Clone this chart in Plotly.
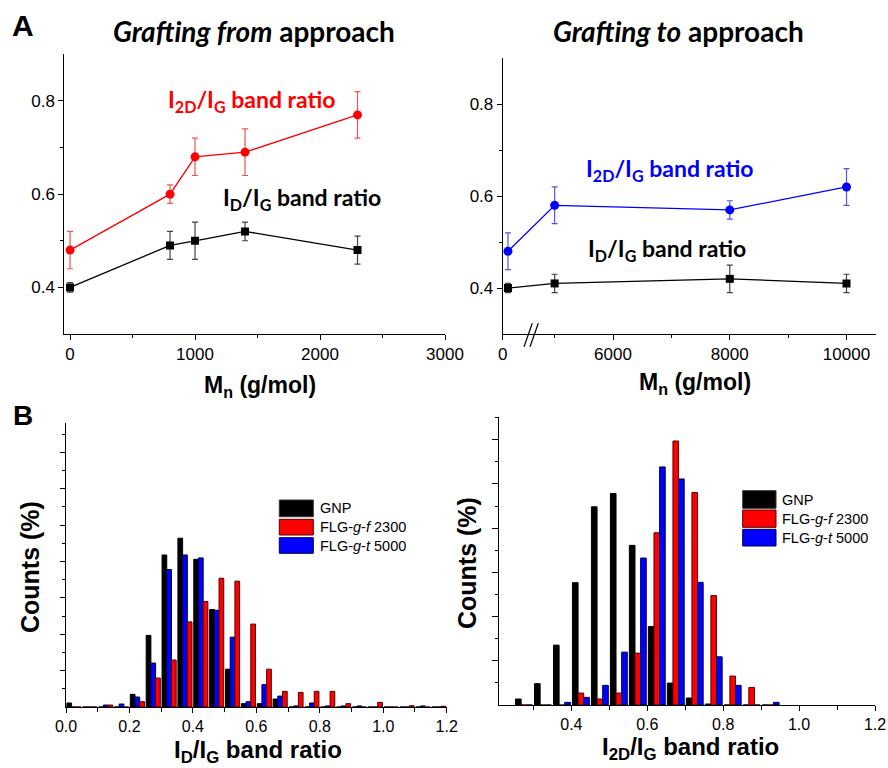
import plotly.graph_objects as go

W, H = 888, 768

# ---------------- Panel A data ----------------
MN_FROM = [0, 800, 1000, 1400, 2300]
I2D_FROM = [0.48, 0.60, 0.68, 0.69, 0.77]
I2D_FROM_ERR = [0.04, 0.02, 0.04, 0.05, 0.05]
ID_FROM = [0.40, 0.49, 0.50, 0.52, 0.48]
ID_FROM_ERR = [0.01, 0.03, 0.04, 0.02, 0.03]

MN_TO = [0, 5000, 8000, 10000]
I2D_TO = [0.48, 0.58, 0.57, 0.62]
I2D_TO_ERR = [0.04, 0.04, 0.02, 0.04]
ID_TO = [0.40, 0.41, 0.42, 0.41]
ID_TO_ERR = [0.01, 0.02, 0.03, 0.02]

# broken axis: Mn = 0 is drawn just after the axis break
AXIS_START_TO = 4110
BREAK_POS = 4200

# ---------------- Panel B data ----------------
BINS_ID = [0.025, 0.075, 0.125, 0.175, 0.225, 0.275, 0.325, 0.375, 0.425, 0.475,
           0.525, 0.575, 0.625, 0.675, 0.725, 0.775, 0.825, 0.875, 0.925, 0.975,
           1.025, 1.075, 1.125, 1.175]
GNP_ID = [0.55, 0, 0, 0, 1.74, 9.84, 20.9, 23.2, 20.3, 13.4, 5.2, 0.46, 0.46, 1.1,
          0, 0, 0, 0, 0, 0, 0, 0, 0, 0]
FROM_ID = [0, 0, 0.27, 0, 0.73, 3.98, 6.46, 11.7, 14.5, 17.7, 17.3, 11.4, 5.2, 2.15,
           2.0, 2.15, 2.15, 0.46, 0, 0.64, 0, 0.18, 0, 0.1]
TO_ID = [0, 0, 0.27, 0.41, 1.37, 6.04, 18.9, 20.9, 20.5, 13.3, 9.6, 0.73, 3.07, 1.5,
         0.15, 0.55, 0.15, 0.15, 0.15, 0, 0, 0, 0.15, 0]

BINS_2D = [0.275, 0.325, 0.375, 0.425, 0.475, 0.525, 0.575, 0.625, 0.675, 0.725,
           0.775, 0.825, 0.875, 0.925]
GNP_2D = [0.68, 2.41, 6.77, 13.83, 22.41, 23.91, 18.05, 8.87, 2.48, 0.79, 0.11, 0, 0, 0]
FROM_2D = [0, 0, 0, 1.35, 0.68, 1.35, 5.86, 19.47, 29.85, 24.02, 12.37, 3.27, 1.99, 0]
TO_2D = [0, 0, 0.30, 0.86, 2.22, 5.98, 16.62, 26.92, 25.56, 13.87, 5.45, 2.22, 0, 0.30]

LEGEND_LABELS = ["GNP", "FLG-<i>g</i>-<i>f</i> 2300", "FLG-<i>g</i>-<i>t</i> 5000"]

ARIAL = "Liberation Sans, Arial, sans-serif"
CALIBRI = "Lato, Open Sans, sans-serif"

RED = "#ff0000"
BLUE = "#0000ff"
BLACK = "#000000"


def px(x):
    return x / W


def py(y):
    return 1 - y / H


fig = go.Figure()

# ---------- Top-left ----------
fig.add_trace(go.Scatter(
    x=MN_FROM, y=ID_FROM, mode="lines+markers", xaxis="x", yaxis="y",
    line=dict(color=BLACK, width=1.3),
    marker=dict(symbol="square", size=8, color=BLACK),
    error_y=dict(type="data", array=ID_FROM_ERR, visible=True, color="#444444",
                 thickness=1.2, width=3)))
fig.add_trace(go.Scatter(
    x=MN_FROM, y=I2D_FROM, mode="lines+markers", xaxis="x", yaxis="y",
    line=dict(color=RED, width=1.3),
    marker=dict(symbol="circle", size=9, color=RED),
    error_y=dict(type="data", array=I2D_FROM_ERR, visible=True, color="rgba(235,40,40,0.8)",
                 thickness=1.2, width=3)))

# ---------- Top-right ----------
mn_to_axis = [BREAK_POS if m == 0 else m for m in MN_TO]
fig.add_trace(go.Scatter(
    x=mn_to_axis, y=ID_TO, mode="lines+markers", xaxis="x2", yaxis="y2",
    line=dict(color=BLACK, width=1.3),
    marker=dict(symbol="square", size=8, color=BLACK),
    error_y=dict(type="data", array=ID_TO_ERR, visible=True, color="#444444",
                 thickness=1.2, width=3)))
fig.add_trace(go.Scatter(
    x=mn_to_axis, y=I2D_TO, mode="lines+markers", xaxis="x2", yaxis="y2",
    line=dict(color=BLUE, width=1.3),
    marker=dict(symbol="circle", size=9, color=BLUE),
    error_y=dict(type="data", array=I2D_TO_ERR, visible=True, color="rgba(40,40,235,0.8)",
                 thickness=1.2, width=3)))

# ---------- Bottom-left histogram (order: GNP, g-t, g-f) ----------
fig.add_trace(go.Bar(x=BINS_ID, y=GNP_ID, xaxis="x3", yaxis="y3",
                     marker=dict(color=BLACK, line=dict(color="#000000", width=1))))
fig.add_trace(go.Bar(x=BINS_ID, y=TO_ID, xaxis="x3", yaxis="y3",
                     marker=dict(color=BLUE, line=dict(color="#000044", width=1))))
fig.add_trace(go.Bar(x=BINS_ID, y=FROM_ID, xaxis="x3", yaxis="y3",
                     marker=dict(color=RED, line=dict(color="#550000", width=1))))

# ---------- Bottom-right histogram (order: GNP, g-f, g-t) ----------
fig.add_trace(go.Bar(x=BINS_2D, y=GNP_2D, xaxis="x4", yaxis="y4",
                     marker=dict(color=BLACK, line=dict(color="#000000", width=1))))
fig.add_trace(go.Bar(x=BINS_2D, y=FROM_2D, xaxis="x4", yaxis="y4",
                     marker=dict(color=RED, line=dict(color="#550000", width=1))))
fig.add_trace(go.Bar(x=BINS_2D, y=TO_2D, xaxis="x4", yaxis="y4",
                     marker=dict(color=BLUE, line=dict(color="#000044", width=1))))

tickfont = dict(family=ARIAL, size=17, color="black")
common = dict(showline=True, linecolor="black", linewidth=1, ticks="outside",
              ticklen=5, tickcolor="black", tickwidth=1, showgrid=False,
              zeroline=False, tickfont=tickfont, mirror=False,
              ticklabeloverflow="allow")
bottom_font = dict(family=ARIAL, size=16, color="black")

fig.update_layout(
    width=W, height=H, template="none",
    paper_bgcolor="white", plot_bgcolor="white",
    margin=dict(l=0, r=0, t=0, b=0),
    showlegend=False,
    barmode="group", bargap=0.11, bargroupgap=0,
    xaxis=dict(domain=[px(64.3), px(445)], range=[-46, 3000], anchor="y",
               tickvals=[0, 1000, 2000, 3000],
               minor=dict(tickvals=[500, 1500, 2500], ticks="outside", ticklen=3,
                          tickcolor="black"),
               **common),
    yaxis=dict(domain=[py(334), py(54.3)], range=[0.3, 0.9], anchor="x",
               tickvals=[0.4, 0.6, 0.8],
               minor=dict(tickvals=[0.5, 0.7], ticks="outside", ticklen=3,
                          tickcolor="black"),
               **common),
    xaxis2=dict(domain=[px(502.7), px(875.7)], range=[AXIS_START_TO, 10500], anchor="y2",
                tickvals=[AXIS_START_TO, 6000, 8000, 10000],
                ticktext=["0", "6000", "8000", "10000"],
                minor=dict(tickvals=[5000, 7000, 9000], ticks="outside", ticklen=3,
                           tickcolor="black"),
                **common),
    yaxis2=dict(domain=[py(334), py(58.3)], range=[0.3, 0.9], anchor="x2",
                tickvals=[0.4, 0.6, 0.8],
                minor=dict(tickvals=[0.5, 0.7], ticks="outside", ticklen=3,
                           tickcolor="black"),
                **common),
    xaxis3=dict(domain=[px(66), px(446.7)], range=[0, 1.2], anchor="y3",
                tickvals=[0, 0.2, 0.4, 0.6, 0.8, 1.0, 1.2],
                ticktext=["0.0", "0.2", "0.4", "0.6", "0.8", "1.0", "1.2"],
                minor=dict(tickvals=[0.1, 0.3, 0.5, 0.7, 0.9, 1.1], ticks="outside",
                           ticklen=4, tickcolor="black"),
                **{**common, "tickfont": bottom_font}),
    yaxis3=dict(domain=[py(707), py(423.3)], range=[0, 39], anchor="x3",
                showticklabels=False, tickvals=[5, 10, 15, 20, 25, 30, 35],
                minor=dict(tickvals=[2.5, 7.5, 12.5, 17.5, 22.5, 27.5, 32.5, 37.5],
                           ticks="outside", ticklen=3, tickcolor="black"),
                **common),
    xaxis4=dict(domain=[px(499.3), px(875)], range=[0.21, 1.2], anchor="y4",
                tickvals=[0.4, 0.6, 0.8, 1.0, 1.2],
                ticktext=["0.4", "0.6", "0.8", "1.0", "1.2"],
                minor=dict(tickvals=[0.3, 0.5, 0.7, 0.9, 1.1], ticks="outside",
                           ticklen=4, tickcolor="black"),
                **{**common, "tickfont": bottom_font}),
    yaxis4=dict(domain=[py(705), py(416.7)], range=[0, 32.6], anchor="x4",
                showticklabels=False, tickvals=[5, 10, 15, 20, 25, 30],
                minor=dict(tickvals=[2.5, 7.5, 12.5, 17.5, 22.5, 27.5, 32.5],
                           ticks="outside", ticklen=3, tickcolor="black"),
                **{**common, "ticklen": 6}),
)

annotations = []


def ann(x, y, text, size, family=ARIAL, color="black", angle=0, xanchor="center",
        yanchor="middle"):
    annotations.append(dict(x=px(x), y=py(y), xref="paper", yref="paper", text=text,
                            showarrow=False, textangle=angle, xanchor=xanchor,
                            yanchor=yanchor,
                            font=dict(family=family, size=size, color=color)))


ann(23, 25, "<b>A</b>", 30)
ann(23, 415, "<b>B</b>", 28)
ann(254, 31, "<b><i>Grafting from</i> approach</b>", 28, CALIBRI)
ann(678, 31, "<b><i>Grafting to</i> approach</b>", 28, CALIBRI)

ann(252, 100, "<b>I<sub>2D</sub>/I<sub>G</sub> band ratio</b>", 23, CALIBRI, RED)
ann(302, 199, "<b>I<sub>D</sub>/I<sub>G</sub> band ratio</b>", 23, CALIBRI, BLACK)
ann(670, 169, "<b>I<sub>2D</sub>/I<sub>G</sub> band ratio</b>", 23, CALIBRI, BLUE)
ann(667, 250, "<b>I<sub>D</sub>/I<sub>G</sub> band ratio</b>", 23, CALIBRI, BLACK)

ann(260, 386, "<b>M<sub>n</sub> (g/mol)</b>", 23)
ann(695, 383, "<b>M<sub>n</sub> (g/mol)</b>", 23)
ann(258, 751, "<b>I<sub>D</sub>/I<sub>G</sub> band ratio</b>", 24)
ann(690, 748, "<b>I<sub>2D</sub>/I<sub>G</sub> band ratio</b>", 24)
ann(30, 567, "<b>Counts (%)</b>", 25, angle=-90)
ann(467, 563, "<b>Counts (%)</b>", 25, angle=-90)

shapes = []
# axis break marks on top-right x axis
for dx in (0, 6):
    shapes.append(dict(type="line", xref="paper", yref="paper",
                       x0=px(524 + dx), y0=py(346.7), x1=px(532.3 + dx), y1=py(323.3),
                       line=dict(color="black", width=1.2)))

# legends drawn as swatches + labels
SWATCH_COLORS = [BLACK, RED, BLUE]
SWATCH_LINES = ["#333333", "#550000", "#000044"]
for (bx0, bx1, rows, tx) in [
    (279.3, 313.3, [(500, 516.7), (519.3, 535), (537.7, 553.3)], 318),
    (742.7, 776, [(490.7, 508.3), (510, 527.3), (529.3, 546)], 780),
]:
    for (r0, r1), c, lc, lab in zip(rows, SWATCH_COLORS, SWATCH_LINES, LEGEND_LABELS):
        shapes.append(dict(type="rect", xref="paper", yref="paper",
                           x0=px(bx0), x1=px(bx1), y0=py(r1), y1=py(r0),
                           fillcolor=c, line=dict(color=lc, width=1)))
        ann(tx, (r0 + r1) / 2, lab, 14.5, xanchor="left")

fig.update_layout(annotations=annotations, shapes=shapes)

fig.write_html("out.html", config={"displayModeBar": False},
               post_script="document.body.style.margin='0';document.body.style.padding='0';")
